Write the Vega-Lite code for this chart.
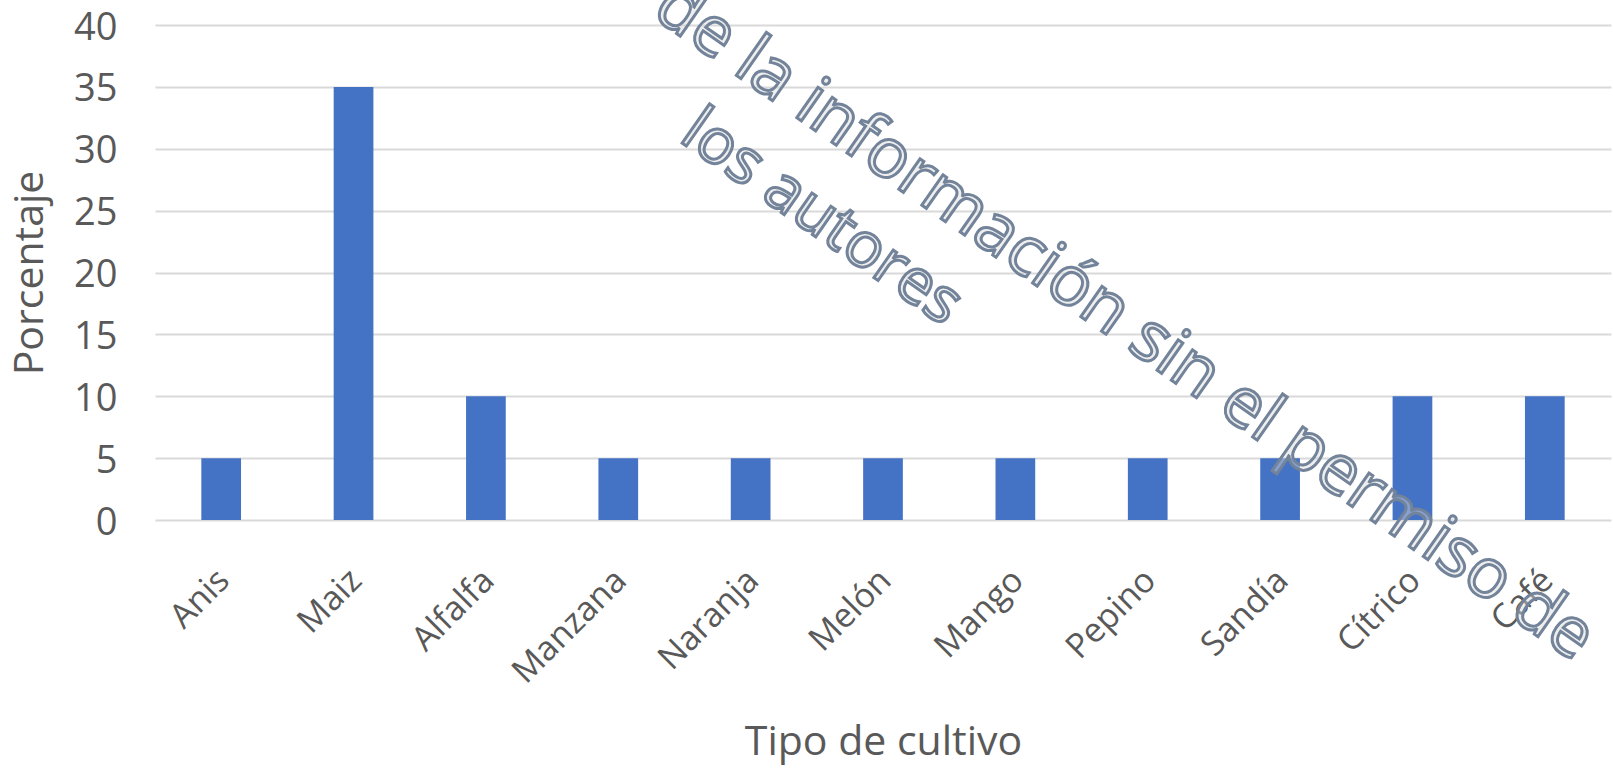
{
  "$schema": "https://vega.github.io/schema/vega-lite/v6.json",
  "width": 1456,
  "height": 495,
  "autosize": {"type": "none"},
  "padding": {"left": 155, "top": 25, "right": 2, "bottom": 249},
  "background": "white",
  "config": {"view": {"stroke": null}, "font": "Open Sans"},
  "resolve": {"scale": {"x": "independent"}},
  "layer": [
    {
      "data": {
        "values": [
          {"cultivo": "Anis", "porcentaje": 5},
          {"cultivo": "Maiz", "porcentaje": 35},
          {"cultivo": "Alfalfa", "porcentaje": 10},
          {"cultivo": "Manzana", "porcentaje": 5},
          {"cultivo": "Naranja", "porcentaje": 5},
          {"cultivo": "Melón", "porcentaje": 5},
          {"cultivo": "Mango", "porcentaje": 5},
          {"cultivo": "Pepino", "porcentaje": 5},
          {"cultivo": "Sandía", "porcentaje": 5},
          {"cultivo": "Cítrico", "porcentaje": 10},
          {"cultivo": "Café", "porcentaje": 10}
        ]
      },
      "mark": {"type": "bar", "color": "#4472C4"},
      "encoding": {
        "x": {
          "field": "cultivo",
          "type": "nominal",
          "sort": null,
          "scale": {"paddingInner": 0.7, "paddingOuter": 0.35},
          "axis": {
            "title": "Tipo de cultivo",
            "labelAngle": -45,
            "labelFontSize": 34,
            "labelColor": "#595959",
            "labelPadding": 43,
            "labelOffset": -9,
            "ticks": false,
            "domain": false,
            "titleFontSize": 41,
            "titleFontWeight": "normal",
            "titleColor": "#595959",
            "titlePadding": 33
          }
        },
        "y": {
          "field": "porcentaje",
          "type": "quantitative",
          "title": "Porcentaje",
          "scale": {"domain": [0, 40]},
          "axis": {
            "title": "Porcentaje",
            "values": [0, 5, 10, 15, 20, 25, 30, 35, 40],
            "labelFontSize": 38,
            "labelColor": "#595959",
            "labelPadding": 38,
            "labelBaseline": "alphabetic",
            "labelOffset": 14,
            "ticks": false,
            "domain": false,
            "gridColor": "#d9d9d9",
            "gridWidth": 2,
            "titleFontSize": 41,
            "titleFontWeight": "normal",
            "titleColor": "#595959",
            "titlePadding": 22
          }
        }
      }
    },
    {
      "data": {"values": [{}]},
      "mark": {
        "type": "text",
        "text": "Prohibido el uso de la información sin el permiso de",
        "angle": 35,
        "align": "right",
        "baseline": "alphabetic",
        "font": "Open Sans",
        "fontSize": 69,
        "fill": "#d9d9d9",
        "fillOpacity": 0.45,
        "stroke": "#72839a",
        "strokeWidth": 3
      },
      "encoding": {
        "x": {"datum": 97.5, "type": "quantitative", "scale": {"domain": [0, 100]}, "axis": null},
        "y": {"datum": -11.5, "type": "quantitative", "title": "Porcentaje"}
      }
    },
    {
      "data": {"values": [{}]},
      "mark": {
        "type": "text",
        "text": "los autores",
        "angle": 35,
        "align": "left",
        "baseline": "alphabetic",
        "font": "Open Sans",
        "fontSize": 63,
        "fill": "#d9d9d9",
        "fillOpacity": 0.45,
        "stroke": "#72839a",
        "strokeWidth": 3
      },
      "encoding": {
        "x": {"datum": 35.9, "type": "quantitative", "scale": {"domain": [0, 100]}, "axis": null},
        "y": {"datum": 30.7, "type": "quantitative", "title": "Porcentaje"}
      }
    }
  ]
}
